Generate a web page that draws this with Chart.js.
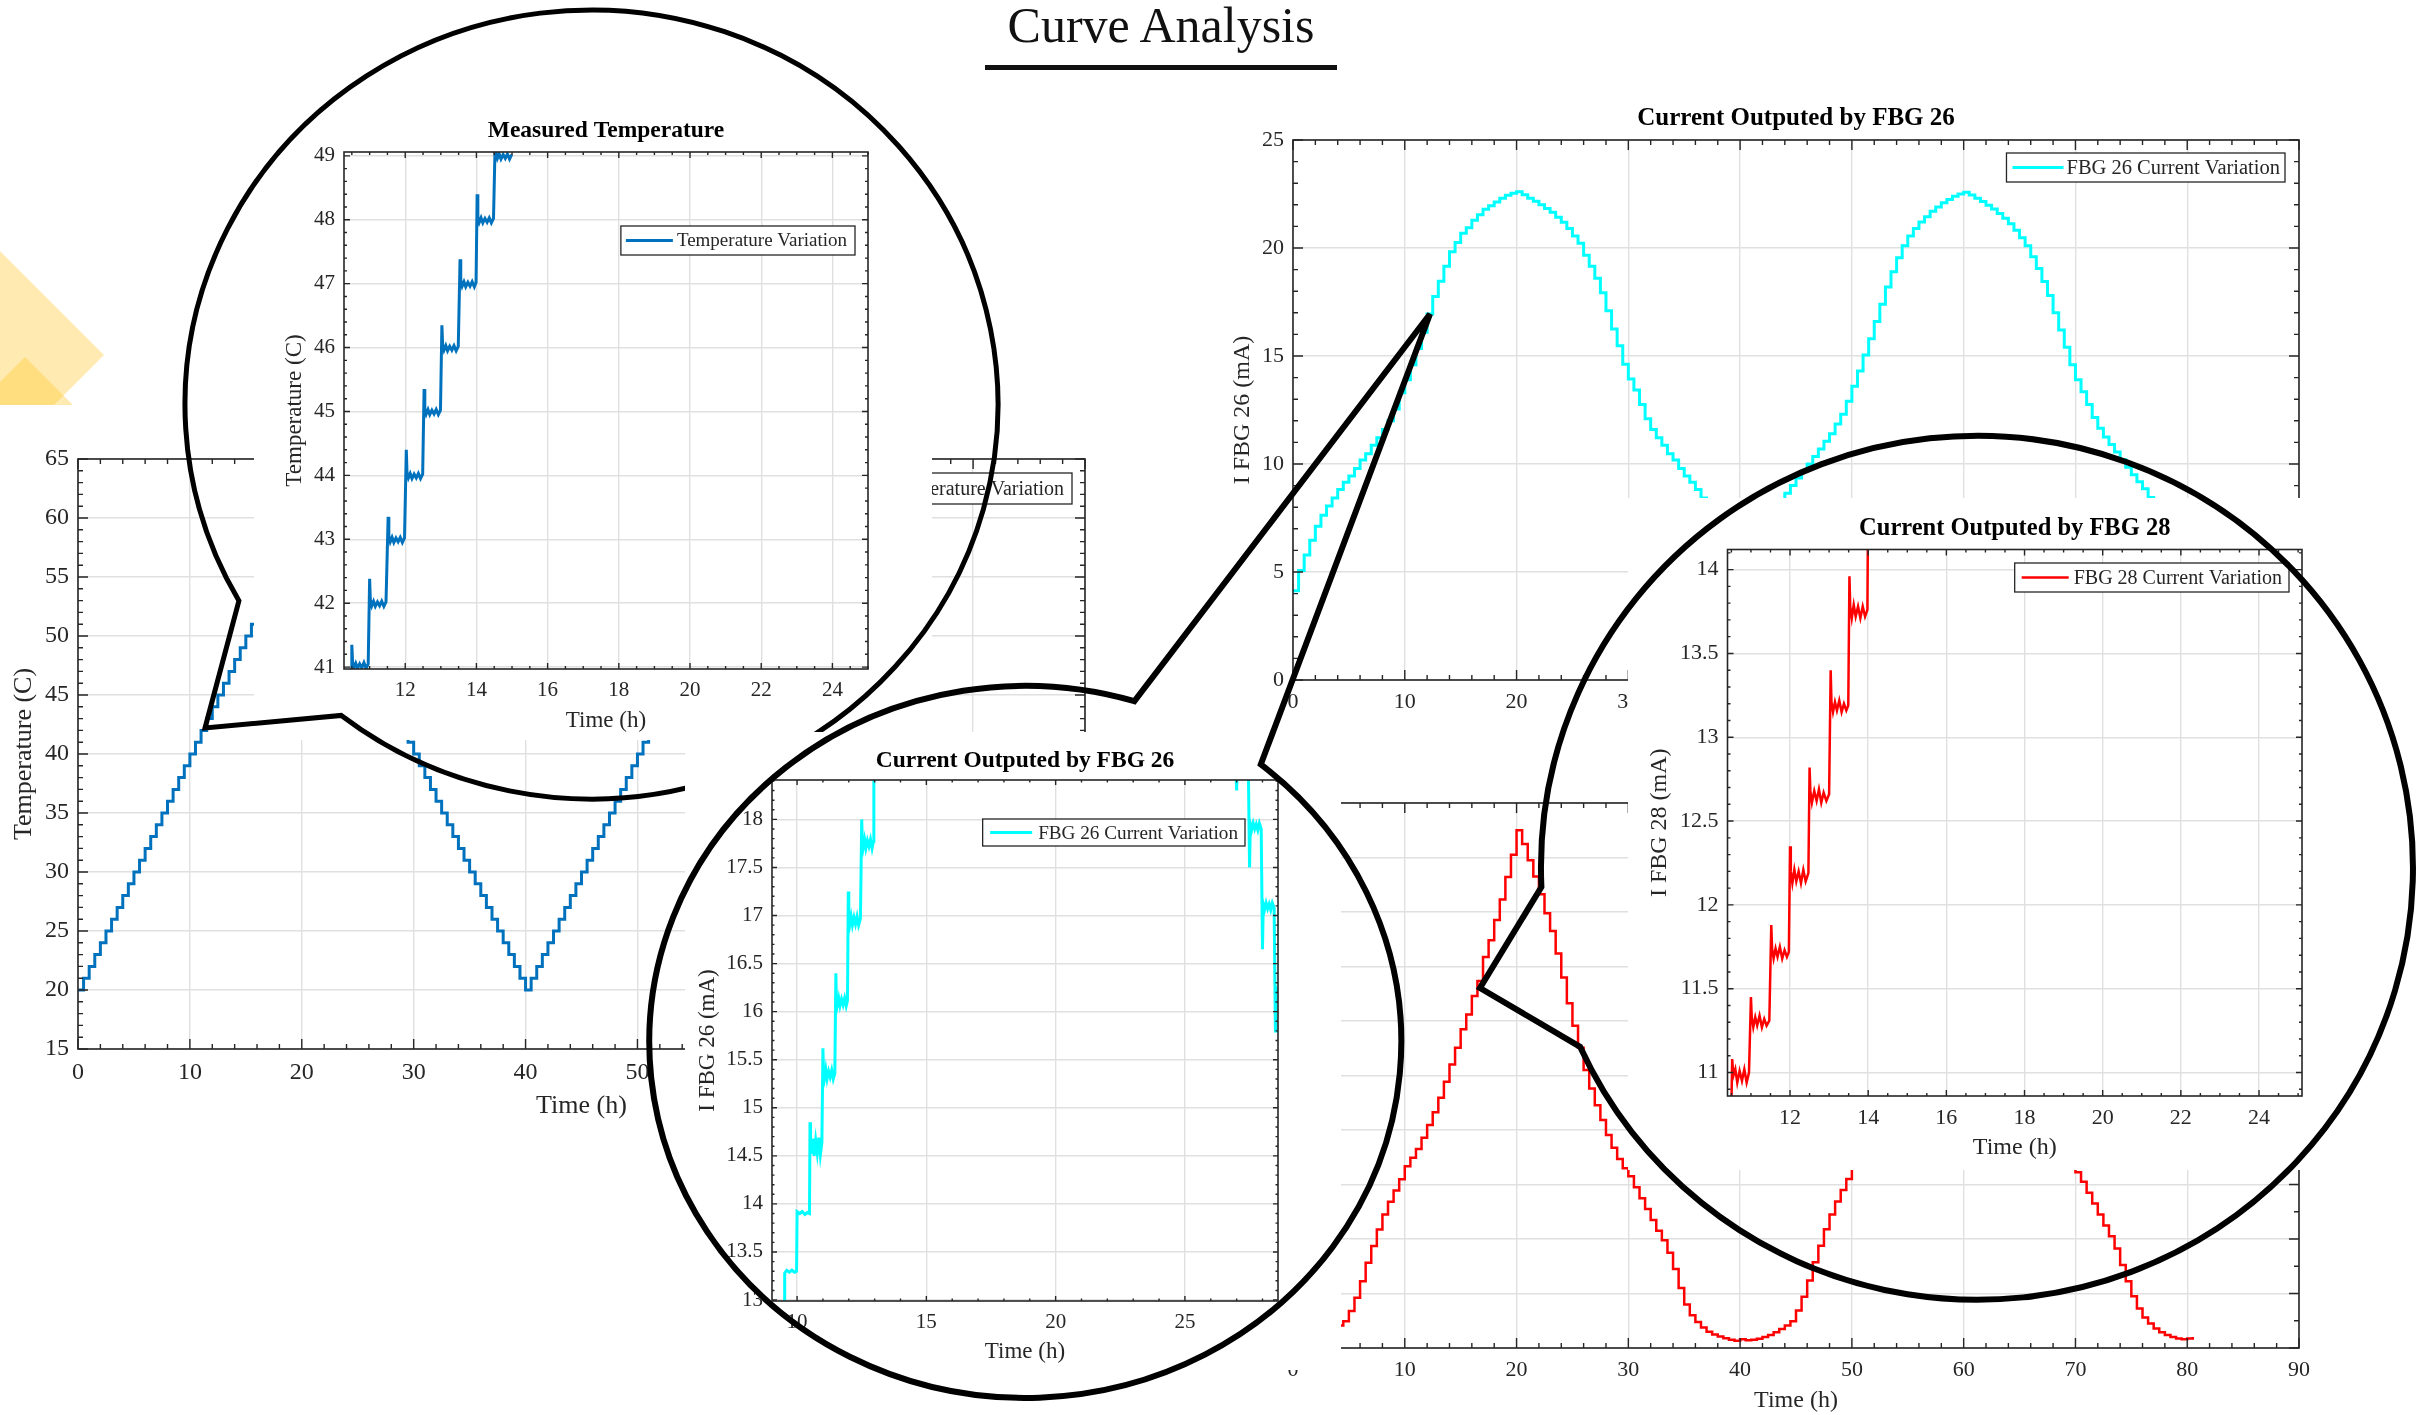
<!DOCTYPE html>
<html lang="en">
<head>
<meta charset="utf-8">
<title>Curve Analysis</title>
<script src="https://cdn.jsdelivr.net/npm/chart.js@4.4.1/dist/chart.umd.min.js"></script>
<style>
  html, body { margin: 0; padding: 0; background: #fff; }
  body { position: relative; width: 2420px; height: 1415px; overflow: hidden; font-family: 'Liberation Serif', 'Times New Roman', serif; }
  .panel { position: absolute; }
  .panel canvas { display: block; }
  .layer { position: absolute; left: 0; top: 0; width: 2420px; height: 1415px; pointer-events: none; }
  #head { position: absolute; left: 961px; top: 0; width: 400px; text-align: center; font-size: 50px; line-height: 50px; color: #111; }
  #rule { position: absolute; left: 985px; top: 65px; width: 352px; height: 5px; background: #111; }
</style>
</head>
<body>
<svg class="layer" viewBox="0 0 2420 1415">
  <polygon points="0,251 104,355 0,459" fill="rgba(255,200,40,0.36)"/>
  <polygon points="25,357 85,417 25,477 -35,417" fill="rgba(255,200,40,0.36)"/>
</svg>
<div id="pA" class="panel"></div>
<div id="pB" class="panel"></div>
<div id="pC" class="panel"></div>
<div id="pD" class="panel"></div>
<svg id="r1" class="layer" viewBox="0 0 2420 1415"></svg>
<div id="pE" class="panel"></div>
<svg id="r2" class="layer" viewBox="0 0 2420 1415"></svg>
<div id="pF" class="panel"></div>
<svg id="r3" class="layer" viewBox="0 0 2420 1415"></svg>
<div id="head">Curve Analysis</div>
<div id="rule"></div>

<script>
'use strict';

// ---------- data ----------
const hours = [
  0, 0.5, 1, 1.5, 2, 2.5, 3, 3.5, 4, 4.5, 5, 5.5, 6, 6.5, 7, 7.5, 8, 8.5, 9, 9.5,
  10, 10.5, 11, 11.5, 12, 12.5, 13, 13.5, 14, 14.5, 15, 15.5, 16, 16.5, 17, 17.5, 18, 18.5, 19, 19.5,
  20, 20.5, 21, 21.5, 22, 22.5, 23, 23.5, 24, 24.5, 25, 25.5, 26, 26.5, 27, 27.5, 28, 28.5, 29, 29.5,
  30, 30.5, 31, 31.5, 32, 32.5, 33, 33.5, 34, 34.5, 35, 35.5, 36, 36.5, 37, 37.5, 38, 38.5, 39, 39.5,
  40, 40.5, 41, 41.5, 42, 42.5, 43, 43.5, 44, 44.5, 45, 45.5, 46, 46.5, 47, 47.5, 48, 48.5, 49, 49.5,
  50, 50.5, 51, 51.5, 52, 52.5, 53, 53.5, 54, 54.5, 55, 55.5, 56, 56.5, 57, 57.5, 58, 58.5, 59, 59.5,
  60, 60.5, 61, 61.5, 62, 62.5, 63, 63.5, 64, 64.5, 65, 65.5, 66, 66.5, 67, 67.5, 68, 68.5, 69, 69.5,
  70, 70.5, 71, 71.5, 72, 72.5, 73, 73.5, 74, 74.5, 75, 75.5, 76, 76.5, 77, 77.5, 78, 78.5, 79, 79.5,
  80, 80.5
];

const temperature = [
  20, 21, 22, 23, 24, 25, 26, 27, 28, 29, 30, 31, 32, 33, 34, 35, 36, 37, 38, 39,
  40, 41, 42, 43, 44, 45, 46, 47, 48, 49, 50, 51, 52, 53, 54, 55, 56, 57, 58, 59,
  60, 59, 58, 57, 56, 55, 54, 53, 52, 51, 50, 49, 48, 47, 46, 45, 44, 43, 42, 41,
  40, 39, 38, 37, 36, 35, 34, 33, 32, 31, 30, 29, 28, 27, 26, 25, 24, 23, 22, 21,
  20, 21, 22, 23, 24, 25, 26, 27, 28, 29, 30, 31, 32, 33, 34, 35, 36, 37, 38, 39,
  40, 41, 42, 43, 44, 45, 46, 47, 48, 49, 50, 51, 52, 53, 54, 55, 56, 57, 58, 59,
  60, 59, 58, 57, 56, 55, 54, 53, 52, 51, 50, 49, 48, 47, 46, 45, 44, 43, 42, 41,
  40, 39, 38, 37, 36, 35, 34, 33, 32, 31, 30, 29, 28, 27, 26, 25, 24, 23, 22, 21,
  20, 20
];

const fbg26 = [
  4.13, 5.07, 5.79, 6.47, 7.12, 7.63, 8.06, 8.43, 8.82, 9.16, 9.45, 9.79, 10.19, 10.48, 10.87, 11.21, 11.6, 12.0, 12.55, 13.3,
  13.9, 14.6, 15.35, 16.1, 16.95, 17.75, 18.46, 19.15, 19.83, 20.26, 20.68, 20.94, 21.28, 21.54, 21.79, 21.96, 22.13, 22.3, 22.44, 22.53,
  22.6, 22.47, 22.3, 22.17, 22.0, 21.83, 21.66, 21.42, 21.19, 20.9, 20.56, 20.22, 19.66, 19.15, 18.6, 17.93, 17.1, 16.25, 15.48, 14.62,
  13.94, 13.43, 12.75, 12.1, 11.6, 11.21, 10.87, 10.48, 10.19, 9.79, 9.45, 9.16, 8.82, 8.43, 8.06, 7.63, 7.12, 6.47, 5.79, 5.07,
  4.13, 4.7, 5.5, 6.2, 6.85, 7.4, 7.85, 8.25, 8.65, 9.0, 9.35, 9.65, 10.0, 10.35, 10.7, 11.05, 11.4, 11.85, 12.3, 12.9,
  13.6, 14.3, 15.05, 15.8, 16.6, 17.4, 18.2, 18.9, 19.55, 20.1, 20.55, 20.9, 21.2, 21.45, 21.7, 21.9, 22.1, 22.25, 22.4, 22.5,
  22.58, 22.45, 22.3, 22.15, 21.98, 21.8, 21.6, 21.38, 21.12, 20.82, 20.48, 20.1, 19.6, 19.05, 18.45, 17.8, 17.0, 16.2, 15.4, 14.6,
  13.9, 13.35, 12.75, 12.15, 11.65, 11.25, 10.9, 10.55, 10.2, 9.85, 9.5, 9.18, 8.85, 8.45, 8.07, 7.65, 7.15, 6.5, 5.8, 5.1,
  4.15, 4.15
];

const fbg28 = [
  4.32, 4.28, 4.3, 4.34, 4.4, 4.48, 4.58, 4.7, 4.83, 4.98, 5.36, 5.84, 6.45, 7.13, 7.74, 8.35, 8.9, 9.37, 9.78, 10.19,
  10.67, 10.98, 11.3, 11.72, 12.18, 12.65, 13.18, 13.77, 14.4, 15.02, 15.7, 16.24, 16.92, 17.47, 18.35, 18.96, 19.71, 20.46, 21.28, 22.1,
  23.0, 22.5, 21.9, 21.3, 20.65, 19.95, 19.3, 18.48, 17.6, 16.65, 15.83, 15.02, 14.2, 13.52, 12.91, 12.37, 11.82, 11.35, 10.94, 10.6,
  10.3, 9.9, 9.5, 9.1, 8.7, 8.3, 7.95, 7.5, 6.9, 6.2, 5.6, 5.2, 4.95, 4.75, 4.6, 4.5, 4.42, 4.36, 4.3, 4.27,
  4.32, 4.28, 4.3, 4.34, 4.4, 4.48, 4.58, 4.7, 4.83, 4.98, 5.38, 5.88, 6.48, 7.15, 7.75, 8.36, 8.9, 9.38, 9.8, 10.2,
  10.66, 11.0, 11.32, 11.74, 12.2, 12.67, 13.2, 13.78, 14.4, 15.0, 15.68, 16.25, 16.9, 17.48, 18.33, 18.95, 19.7, 20.45, 21.26, 22.05,
  22.95, 22.4, 22.0, 21.5, 20.9, 20.25, 19.6, 18.9, 18.05, 17.1, 16.25, 15.4, 14.6, 13.85, 13.2, 12.62, 12.08, 11.6, 11.15, 10.75,
  10.45, 10.1, 9.7, 9.3, 8.9, 8.5, 8.1, 7.65, 7.05, 6.45, 5.9, 5.45, 5.12, 4.9, 4.72, 4.58, 4.48, 4.4, 4.35, 4.32,
  4.35, 4.4
];

// magnified views (time in h, value)
const tzX = [10.5,
  10.5, 10.52, 10.56, 10.61, 10.66, 10.72, 10.78, 10.84, 10.9, 10.96,
  11.0, 11.02, 11.06, 11.11, 11.16, 11.22, 11.28, 11.34, 11.4, 11.46,
  11.52, 11.54, 11.58, 11.63, 11.68, 11.74, 11.8, 11.86, 11.92, 11.98,
  12.03, 12.05, 12.09, 12.14, 12.19, 12.25, 12.31, 12.37, 12.43, 12.49,
  12.53, 12.55, 12.59, 12.64, 12.69, 12.75, 12.81, 12.87, 12.93, 12.99,
  13.03, 13.05, 13.09, 13.14, 13.19, 13.25, 13.31, 13.37, 13.43, 13.49,
  13.54, 13.56, 13.6, 13.65, 13.7, 13.76, 13.82, 13.88, 13.94, 13.99,
  14.02, 14.04, 14.08, 14.13, 14.18, 14.24, 14.3, 14.36, 14.42, 14.48,
  14.53, 14.55, 14.59, 14.64, 14.69, 14.75, 14.81, 14.87, 14.93, 14.99];
const tzY = [40.9,
  41.35, 41.08, 40.99, 41.06, 40.98, 41.05, 40.99, 41.07, 40.98, 41.05,
  42.38, 42.05, 41.96, 42.03, 41.95, 42.02, 41.96, 42.03, 41.95, 42.02,
  43.35, 43.05, 42.96, 43.03, 42.95, 43.02, 42.96, 43.03, 42.95, 43.02,
  44.4, 44.05, 43.96, 44.03, 43.95, 44.02, 43.96, 44.03, 43.95, 44.02,
  45.35, 45.05, 44.96, 45.03, 44.95, 45.02, 44.96, 45.03, 44.95, 45.02,
  46.35, 46.05, 45.96, 46.03, 45.95, 46.02, 45.96, 46.03, 45.95, 46.02,
  47.38, 47.05, 46.96, 47.03, 46.95, 47.02, 46.96, 47.03, 46.95, 47.02,
  48.4, 48.05, 47.96, 48.03, 47.95, 48.02, 47.96, 48.03, 47.95, 48.02,
  49.3, 49.05, 48.96, 49.03, 48.95, 49.02, 48.96, 49.03, 48.95, 49.02];

const z26X = [9.5, 9.52, 9.6, 9.7, 9.8, 9.9, 9.98,
  10.0, 10.1, 10.2, 10.3, 10.4, 10.48,
  10.5, 10.52, 10.56, 10.61, 10.66, 10.72, 10.78, 10.84, 10.9, 10.96,
  11.0, 11.02, 11.06, 11.11, 11.16, 11.22, 11.28, 11.34, 11.4, 11.46,
  11.5, 11.52, 11.56, 11.61, 11.66, 11.72, 11.78, 11.84, 11.9, 11.95,
  11.98, 12.0, 12.04, 12.09, 12.14, 12.2, 12.26, 12.32, 12.38, 12.45,
  12.5, 12.52, 12.56, 12.61, 12.66, 12.72, 12.78, 12.84, 12.9, 12.95,
  12.97, 13.5, 20.0, 26.95,
  27.0, 27.03, 27.45,
  27.5, 27.53, 27.58, 27.64, 27.7, 27.76, 27.82, 27.88, 27.95,
  28.0, 28.03, 28.08, 28.14, 28.2, 28.26, 28.32, 28.38, 28.45,
  28.5, 28.52, 28.6];
const z26Y = [12.95, 13.28, 13.31, 13.29, 13.31, 13.29, 13.3,
  13.92, 13.9, 13.92, 13.89, 13.91, 13.9,
  14.85, 14.62, 14.52, 14.68, 14.5, 14.66, 14.53, 14.69, 14.51, 14.64,
  15.62, 15.38, 15.31, 15.4, 15.3, 15.38, 15.32, 15.39, 15.3, 15.36,
  16.4, 16.15, 16.07, 16.14, 16.06, 16.13, 16.07, 16.14, 16.06, 16.12,
  17.25, 16.98, 16.91, 16.99, 16.9, 16.98, 16.91, 16.99, 16.9, 16.97,
  18.0, 17.79, 17.71, 17.79, 17.7, 17.78, 17.72, 17.79, 17.7, 17.77,
  18.6, 19.2, 22.6, 18.7,
  18.3, 18.6, 18.6,
  17.5, 17.95, 17.89, 17.96, 17.9, 17.95, 17.89, 17.96, 17.9,
  16.65, 17.12, 17.06, 17.13, 17.07, 17.12, 17.06, 17.13, 17.08,
  15.8, 16.25, 16.2];

const z28X = [10.5, 10.52, 10.55, 10.6, 10.65, 10.71, 10.77, 10.83, 10.89, 10.95,
  11.0, 11.02, 11.06, 11.11, 11.16, 11.22, 11.28, 11.34, 11.4, 11.47,
  11.52, 11.54, 11.58, 11.63, 11.68, 11.74, 11.8, 11.86, 11.92, 11.97,
  12.0, 12.02, 12.06, 12.11, 12.16, 12.22, 12.28, 12.34, 12.4, 12.47,
  12.5, 12.52, 12.56, 12.62, 12.68, 12.74, 12.8, 12.86, 12.93, 13.0,
  13.04, 13.06, 13.1, 13.15, 13.2, 13.26, 13.32, 13.38, 13.44, 13.49,
  13.52, 13.54, 13.58, 13.63, 13.68, 13.74, 13.8, 13.86, 13.92, 13.98,
  14.0, 14.3];
const z28Y = [10.8, 11.08, 10.98, 11.02, 10.94, 11.01, 10.95, 11.02, 10.94, 11.0,
  11.45, 11.33, 11.27, 11.33, 11.28, 11.34, 11.27, 11.32, 11.28, 11.31,
  11.88, 11.74, 11.68, 11.74, 11.69, 11.75, 11.68, 11.73, 11.69, 11.72,
  12.35, 12.2, 12.13, 12.21, 12.14, 12.2, 12.13, 12.21, 12.14, 12.19,
  12.82, 12.68, 12.61, 12.68, 12.62, 12.69, 12.61, 12.67, 12.62, 12.66,
  13.4, 13.21, 13.15, 13.21, 13.16, 13.22, 13.15, 13.2, 13.16, 13.19,
  13.96, 13.78, 13.71, 13.79, 13.72, 13.78, 13.71, 13.78, 13.72, 13.76,
  14.5, 15.0];

// tick labels
const fullXTicks = [0, 10, 20, 30, 40, 50, 60, 70, 80, 90];
const tempYTicks = [15, 20, 25, 30, 35, 40, 45, 50, 55, 60, 65];
const f26YTicks = [0, 5, 10, 15, 20, 25];
const f28YTicks = [4, 6, 8, 10, 12, 14, 16, 18, 20, 22, 24];
const tzXTicks = [12, 14, 16, 18, 20, 22, 24];
const tzYTicks = [41, 42, 43, 44, 45, 46, 47, 48, 49];
const z26XTicks = [10, 15, 20, 25];
const z26YTicks = [13, 13.5, 14, 14.5, 15, 15.5, 16, 16.5, 17, 17.5, 18];
const z28XTicks = [12, 14, 16, 18, 20, 22, 24];
const z28YTicks = [11, 11.5, 12, 12.5, 13, 13.5, 14];

// ---------- helpers ----------
const FONT = 'Liberation Serif';
const INK = '#262626';
const pair = (xs, ys) => xs.map((x, i) => ({ x, y: ys[i] }));

// MATLAB-style box with inward major/minor ticks on all four sides
const boxAxes = {
  id: 'boxAxes',
  afterDatasetsDraw(chart, _args, o) {
    const { ctx, chartArea: a } = chart;
    const sx = chart.scales.x, sy = chart.scales.y;
    const run = (s, step) => {
      const out = [];
      for (let n = Math.ceil(s.min / step - 1e-6); n * step <= s.max + 1e-6; n++) out.push(n * step);
      return out;
    };
    const xt = (vals, len) => vals.forEach((v) => {
      const p = sx.getPixelForValue(v);
      ctx.moveTo(p, a.bottom); ctx.lineTo(p, a.bottom - len);
      ctx.moveTo(p, a.top); ctx.lineTo(p, a.top + len);
    });
    const yt = (vals, len) => vals.forEach((v) => {
      const p = sy.getPixelForValue(v);
      ctx.moveTo(a.left, p); ctx.lineTo(a.left + len, p);
      ctx.moveTo(a.right, p); ctx.lineTo(a.right - len, p);
    });
    ctx.save();
    ctx.strokeStyle = INK; ctx.lineWidth = 1.4; ctx.lineCap = 'butt';
    ctx.beginPath();
    xt(run(sx, o.xMinor), o.len / 2);
    yt(run(sy, o.yMinor), o.len / 2);
    xt(sx.ticks.map((t) => t.value), o.len);
    yt(sy.ticks.map((t) => t.value), o.len);
    ctx.stroke();
    ctx.lineWidth = 1.6;
    ctx.strokeRect(a.left, a.top, a.right - a.left, a.bottom - a.top);
    ctx.restore();
  },
};

// boxed legend anchored to the top-right corner of the plot
const boxLegend = {
  id: 'boxLegend',
  afterDraw(chart, _args, o) {
    const { ctx, chartArea: a } = chart;
    const ds = chart.data.datasets[0];
    ctx.save();
    ctx.font = `${o.size}px "${FONT}"`;
    const tw = ctx.measureText(ds.label).width;
    const w = o.padL + o.line + o.gap + tw + o.padR;
    const x0 = a.right - o.right - w, y0 = a.top + o.top, my = y0 + o.h / 2;
    ctx.fillStyle = '#fff'; ctx.fillRect(x0, y0, w, o.h);
    ctx.strokeStyle = INK; ctx.lineWidth = 1.3; ctx.strokeRect(x0, y0, w, o.h);
    ctx.strokeStyle = ds.borderColor; ctx.lineWidth = ds.borderWidth;
    ctx.beginPath(); ctx.moveTo(x0 + o.padL, my); ctx.lineTo(x0 + o.padL + o.line, my); ctx.stroke();
    ctx.fillStyle = INK; ctx.textBaseline = 'middle'; ctx.textAlign = 'left';
    ctx.fillText(ds.label, x0 + o.padL + o.line + o.gap, my + 1);
    ctx.restore();
  },
};

function panel(id, c) {
  const [bx, by, bw, bh] = c.box;
  const [pl, pt, pr, pb] = c.plot;
  const el = document.getElementById(id);
  Object.assign(el.style, { left: bx + 'px', top: by + 'px', width: bw + 'px', height: bh + 'px' });
  if (c.white) el.style.background = '#fff';
  const cv = document.createElement('canvas');
  cv.width = bw; cv.height = bh;
  el.appendChild(cv);

  const tLh = c.titleSize * 1.2, lLh = c.lab * 1.2;
  const tTop = c.titleY - by - tLh / 2;
  const tBot = Math.max(0, pt - by - tTop - tLh);
  const tickFont = { family: FONT, size: c.tick };
  const grid = { color: '#e0e0e0', lineWidth: 1.4, drawTicks: false };

  new Chart(cv, {
    type: 'line',
    data: { datasets: [{
      label: c.label, data: c.data, borderColor: c.color, borderWidth: c.width,
      pointRadius: 0, fill: false, tension: 0, stepped: c.stepped || false,
    }] },
    options: {
      responsive: false, animation: false, devicePixelRatio: 1,
      layout: { padding: { left: 0, top: 0, bottom: 0, right: bx + bw - pr } },
      plugins: {
        legend: { display: false },
        tooltip: { enabled: false },
        title: {
          display: true, fullSize: false, text: c.title, color: '#000',
          font: { family: FONT, size: c.titleSize, weight: 'bold' },
          padding: { top: tTop, bottom: tBot },
        },
        boxAxes: { xMinor: c.xMinor, yMinor: c.yMinor, len: c.tickLen },
        boxLegend: c.legend,
      },
      scales: {
        x: {
          type: 'linear', min: c.xr[0], max: c.xr[1],
          afterBuildTicks: (s) => { s.ticks = c.xTicks.map((v) => ({ value: v })); },
          afterFit: (s) => { s.height = by + bh - pb; },
          ticks: { font: tickFont, color: INK, padding: 9, autoSkip: false, maxRotation: 0, callback: (v) => String(v) },
          grid, border: { display: false },
          title: {
            display: true, text: 'Time (h)', color: INK, font: { family: FONT, size: c.lab },
            padding: { top: 0, bottom: Math.max(0, by + bh - c.xLabelY - lLh / 2) },
          },
        },
        y: {
          type: 'linear', min: c.yr[0], max: c.yr[1],
          afterBuildTicks: (s) => { s.ticks = c.yTicks.map((v) => ({ value: v })); },
          afterFit: (s) => { s.width = pl - bx; },
          ticks: { font: tickFont, color: INK, padding: 9, autoSkip: false, callback: (v) => String(v) },
          grid, border: { display: false },
          title: {
            display: true, text: c.yLabel, color: INK, font: { family: FONT, size: c.lab },
            padding: { top: Math.max(0, c.yLabelX - bx - lLh / 2), bottom: 0 },
          },
        },
      },
    },
    plugins: [boxAxes, boxLegend],
  });
}

function ring(id, cx, cy, rx, ry, a, tip, b, sweep, w) {
  const on = (p) => {
    const t = Math.atan2((p[1] - cy) / ry, (p[0] - cx) / rx);
    return [cx + rx * Math.cos(t), cy + ry * Math.sin(t)];
  };
  const A = on(a), B = on(b);
  const path = document.createElementNS('http://www.w3.org/2000/svg', 'path');
  path.setAttribute('d', `M${B[0].toFixed(1)} ${B[1].toFixed(1)} A${rx} ${ry} 0 1 ${sweep} ${A[0].toFixed(1)} ${A[1].toFixed(1)} L${tip[0]} ${tip[1]} Z`);
  path.setAttribute('fill', 'none');
  path.setAttribute('stroke', '#000');
  path.setAttribute('stroke-width', w);
  path.setAttribute('stroke-linejoin', 'miter');
  document.getElementById(id).appendChild(path);
}

// ---------- base charts ----------
panel('pA', {
  box: [0, 405, 1110, 725], white: true, plot: [78, 459, 1085, 1049],
  xr: [0, 90], xTicks: fullXTicks, xMinor: 2, yr: [15, 65], yTicks: tempYTicks, yMinor: 1,
  tick: 24, lab: 26, titleSize: 24, title: 'Measured Temperature', titleY: 437,
  yLabel: 'Temperature (C)', yLabelX: 24, xLabelY: 1106, tickLen: 10,
  label: 'Temperature Variation', data: pair(hours, temperature), color: '#0072BD', width: 3, stepped: 'before',
  legend: { size: 20, right: 13, top: 14, h: 31, padL: 5, line: 50, gap: 4, padR: 8 },
});

panel('pB', {
  box: [1200, 88, 1220, 682], plot: [1293, 140, 2299, 680],
  xr: [0, 90], xTicks: fullXTicks, xMinor: 2, yr: [0, 25], yTicks: f26YTicks, yMinor: 1,
  tick: 22, lab: 24, titleSize: 25, title: 'Current Outputed by FBG 26', titleY: 119,
  yLabel: 'I FBG 26 (mA)', yLabelX: 1243, xLabelY: 738, tickLen: 10,
  label: 'FBG 26 Current Variation', data: pair(hours, fbg26), color: '#00FFFF', width: 3, stepped: 'before',
  legend: { size: 20.5, right: 14, top: 13, h: 29, padL: 6, line: 51, gap: 3, padR: 5 },
});

panel('pC', {
  box: [1200, 740, 1220, 675], plot: [1293, 803, 2299, 1348],
  xr: [0, 90], xTicks: fullXTicks, xMinor: 2, yr: [4, 24], yTicks: f28YTicks, yMinor: 1,
  tick: 22, lab: 24, titleSize: 25, title: 'Current Outputed by FBG 28', titleY: 782,
  yLabel: 'I FBG 28 (mA)', yLabelX: 1243, xLabelY: 1401, tickLen: 10,
  label: 'FBG 28 Current Variation', data: pair(hours, fbg28), color: '#FF0000', width: 2.5, stepped: 'before',
  legend: { size: 20.5, right: 14, top: 13, h: 29, padL: 6, line: 51, gap: 3, padR: 5 },
});

// ---------- magnified views ----------
panel('pD', {
  box: [254, 95, 678, 645], white: true, plot: [344, 152, 868, 669],
  xr: [10.28, 25.0], xTicks: tzXTicks, xMinor: 0.5, yr: [40.97, 49.06], yTicks: tzYTicks, yMinor: 0.2,
  tick: 21, lab: 23, titleSize: 23.5, title: 'Measured Temperature', titleY: 131,
  yLabel: 'Temperature (C)', yLabelX: 295, xLabelY: 721, tickLen: 6,
  label: 'Temperature Variation', data: pair(tzX, tzY), color: '#0072BD', width: 3,
  legend: { size: 19, right: 13, top: 74, h: 29, padL: 5, line: 47, gap: 4, padR: 8 },
});
ring('r1', 591.5, 404.5, 406.5, 394.5, [244, 598], [205, 728], [344, 712], 0, 5);

panel('pE', {
  box: [685, 732, 656, 638], white: true, plot: [772, 780, 1278, 1301],
  xr: [9.03, 28.6], xTicks: z26XTicks, xMinor: 1, yr: [12.99, 18.41], yTicks: z26YTicks, yMinor: 0.1,
  tick: 21, lab: 23, titleSize: 23.5, title: 'Current Outputed by FBG 26', titleY: 761,
  yLabel: 'I FBG 26 (mA)', yLabelX: 708, xLabelY: 1352, tickLen: 5,
  label: 'FBG 26 Current Variation', data: pair(z26X, z26Y), color: '#00FFFF', width: 3,
  legend: { size: 19.2, right: 33, top: 39, h: 27, padL: 7.5, line: 42, gap: 6, padR: 7 },
});
ring('r2', 1025.5, 1042, 376, 356, [1134, 702], [1430, 314], [1262, 763], 1, 6);

panel('pF', {
  box: [1628, 498, 712, 672], white: true, plot: [1727.5, 549.5, 2302, 1096],
  xr: [10.4, 25.1], xTicks: z28XTicks, xMinor: 0.5, yr: [10.86, 14.12], yTicks: z28YTicks, yMinor: 0.1,
  tick: 22, lab: 24, titleSize: 24.5, title: 'Current Outputed by FBG 28', titleY: 529,
  yLabel: 'I FBG 28 (mA)', yLabelX: 1660, xLabelY: 1148, tickLen: 6,
  label: 'FBG 28 Current Variation', data: pair(z28X, z28Y), color: '#FF0000', width: 2.5,
  legend: { size: 20, right: 13, top: 13.5, h: 29, padL: 7, line: 47, gap: 5, padR: 7 },
});
ring('r3', 1977, 868, 436, 432, [1542, 887], [1480, 988], [1580, 1047], 0, 6);
</script>
</body>
</html>
